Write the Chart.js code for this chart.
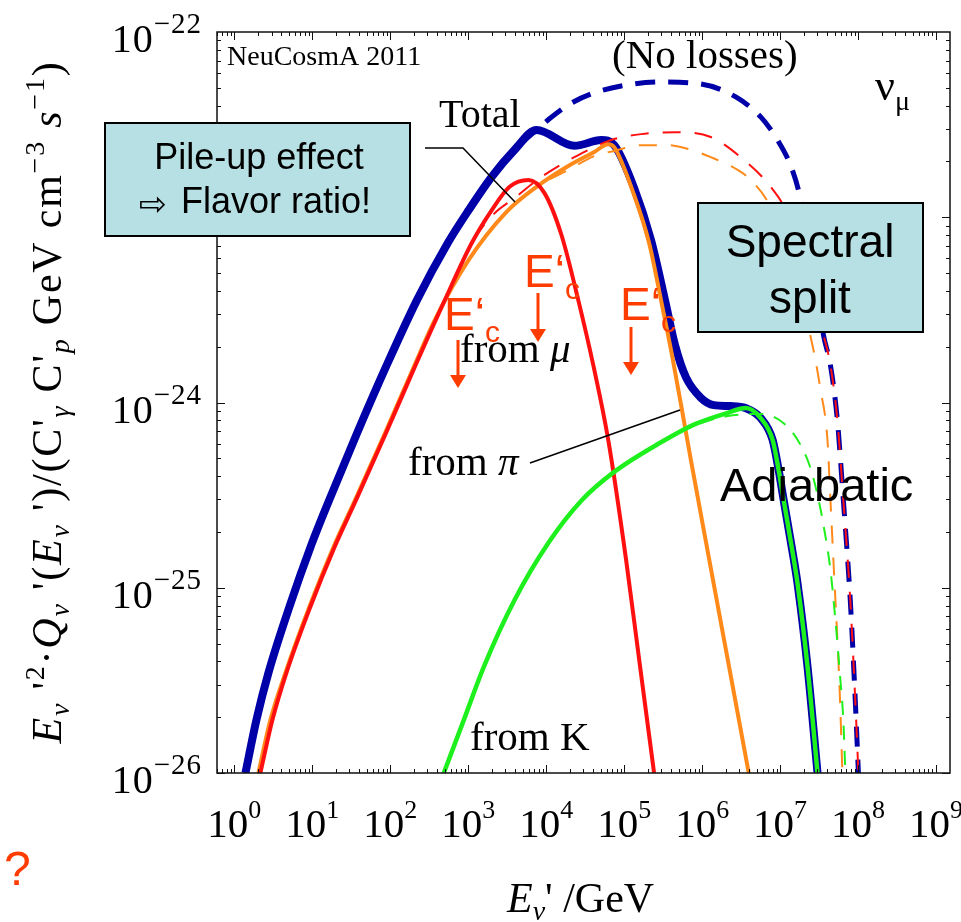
<!DOCTYPE html>
<html>
<head>
<meta charset="utf-8">
<script src="https://cdn.jsdelivr.net/npm/chart.js@4.4.0/dist/chart.umd.min.js"></script>
<style>
  body { margin: 0; background: #fff; }
  canvas { display: block; }
</style>
</head>
<body>
<canvas id="chart" width="961" height="922"></canvas>
<script>
// --- data (E in GeV, E^2 Q in plot units) ---
const totalE = [1.39, 1.92, 2.74, 5.08, 9.70, 16.5, 37.6, 88.3, 220, 547, 1010, 1995, 3930, 7520, 2.30e4, 5.08e4, 7.45e4, 1.34e5, 2.21e5, 3.34e5, 4.49e5, 6.19e5, 9.64e5, 1.41e6, 2.33e6, 3.62e6, 5.64e6, 8.02e6, 9.57e6, 1.11e7, 1.36e7, 1.67e7, 2.25e7, 3.02e7];
const totalQ = [1.0e-26, 1.93e-26, 3.47e-26, 7.87e-26, 1.70e-25, 2.98e-25, 6.84e-25, 1.56e-24, 3.57e-24, 7.26e-24, 1.09e-23, 1.65e-23, 2.31e-23, 2.96e-23, 2.43e-23, 2.61e-23, 2.45e-23, 1.44e-23, 7.53e-24, 3.57e-24, 2.04e-24, 1.37e-24, 1.06e-24, 9.68e-25, 9.57e-25, 9.33e-25, 8.24e-25, 6.28e-25, 4.33e-25, 2.98e-25, 1.81e-25, 1.06e-25, 3.73e-26, 1.0e-26];

const muE = [2.16, 3.08, 4.66, 9.43, 19.1, 36.5, 88.3, 207, 501, 1110, 1995, 3390, 5930, 9510, 1.57e4, 2.58e4, 4.02e4, 6.25e4, 1.06e5, 1.56e5, 2.42e5];
const muQ = [1e-26, 1.93e-26, 3.47e-26, 7.87e-26, 1.64e-25, 2.98e-25, 6.84e-25, 1.56e-24, 3.57e-24, 7.26e-24, 1.09e-23, 1.46e-23, 1.59e-23, 1.35e-23, 8.02e-24, 3.57e-24, 1.59e-24, 6.28e-25, 1.41e-25, 4.07e-26, 1e-26];

const piE = [2.04, 2.90, 4.52, 9.16, 18.5, 35.5, 85.7, 201, 373, 1010, 3100, 7520, 1.92e4, 4.14e4, 6.25e4, 7.45e4, 1.34e5, 2.09e5, 2.97e5, 4.11e5, 5.51e5, 7.18e5, 1.29e6, 2.33e6, 3.96e6];
const piQ = [1e-26, 1.93e-26, 3.47e-26, 7.87e-26, 1.64e-25, 2.98e-25, 6.84e-25, 1.56e-24, 2.79e-24, 5.87e-24, 1.07e-23, 1.46e-23, 1.89e-23, 2.25e-23, 2.48e-23, 2.39e-23, 1.32e-23, 7.26e-24, 3.57e-24, 1.80e-24, 9.12e-25, 4.89e-25, 1.28e-25, 3.34e-26, 1e-26];

const kE = [486, 877, 1580, 3930, 1.07e4, 2.82e4, 7.45e4, 2.97e5, 7.85e5, 2.13e6, 3.62e6, 5.64e6, 8.02e6, 9.57e6, 1.11e7, 1.36e7, 1.67e7, 2.25e7, 3.02e7];
const kQ = [1e-26, 1.93e-26, 3.73e-26, 8.59e-26, 1.75e-25, 2.95e-25, 4.22e-25, 6.10e-25, 7.60e-25, 8.80e-25, 9.33e-25, 8.24e-25, 6.28e-25, 4.33e-25, 2.98e-25, 1.81e-25, 1.06e-25, 3.73e-26, 1e-26];

// no losses (dashed)
const totalNoLossE = [1.39, 1.92, 2.74, 5.08, 9.70, 16.5, 37.6, 88.3, 220, 547, 1010, 1995, 3930, 7520, 1.10e4, 1.92e4, 3.78e4, 9.16e4, 2.97e5, 9.64e5, 2.70e6, 5.64e6, 9.29e6, 1.36e7, 1.72e7, 2.31e7, 2.92e7, 3.60e7, 4.42e7, 5.42e7, 6.47e7, 7.94e7, 9.20e7, 1.01e8];
const totalNoLossQ = [1e-26, 1.93e-26, 3.47e-26, 7.87e-26, 1.70e-25, 2.98e-25, 6.84e-25, 1.56e-24, 3.57e-24, 7.26e-24, 1.09e-23, 1.65e-23, 2.31e-23, 2.96e-23, 3.40e-23, 4.04e-23, 4.63e-23, 5.11e-23, 5.37e-23, 5.24e-23, 4.46e-23, 3.48e-23, 2.61e-23, 1.91e-23, 1.40e-23, 7.53e-24, 4.05e-24, 2.31e-24, 1.59e-24, 8.05e-25, 2.98e-25, 8.59e-26, 2.48e-26, 1e-26];

const muNoLossE = [2.16, 3.08, 4.66, 9.43, 19.1, 36.5, 88.3, 207, 501, 1110, 2120, 3930, 8690, 2.30e4, 6.82e4, 1.65e5, 4.62e5, 1.29e6, 3.42e6, 7.57e6, 1.18e7, 1.67e7, 2.31e7, 2.92e7, 3.60e7, 4.42e7, 5.42e7, 6.47e7, 7.94e7, 9.20e7, 1.01e8];
const muNoLossQ = [1e-26, 1.93e-26, 3.47e-26, 7.87e-26, 1.64e-25, 2.98e-25, 6.84e-25, 1.56e-24, 3.57e-24, 7.26e-24, 1.04e-23, 1.27e-23, 1.65e-23, 2.11e-23, 2.61e-23, 2.81e-23, 2.88e-23, 2.71e-23, 2.04e-23, 1.46e-23, 1.09e-23, 7.08e-24, 4.58e-24, 3.15e-24, 2.31e-24, 1.59e-24, 8.05e-25, 2.98e-25, 8.59e-26, 2.48e-26, 1e-26];

const piNoLossE = [2.04, 2.90, 4.52, 9.16, 18.5, 35.5, 85.7, 201, 373, 1010, 3100, 7520, 1.92e4, 4.14e4, 7.45e4, 1.65e5, 3.66e5, 7.19e5, 1.29e6, 2.86e6, 4.20e6, 7.13e6, 1.11e7, 1.58e7, 2.18e7, 2.68e7, 3.30e7, 4.05e7, 4.42e7, 4.97e7, 5.59e7, 5.93e7, 6.29e7];
const piNoLossQ = [1e-26, 1.93e-26, 3.47e-26, 7.87e-26, 1.64e-25, 2.98e-25, 6.84e-25, 1.56e-24, 2.79e-24, 5.87e-24, 1.07e-23, 1.46e-23, 1.80e-23, 2.14e-23, 2.28e-23, 2.45e-23, 2.45e-23, 2.31e-23, 2.11e-23, 1.80e-23, 1.59e-23, 1.19e-23, 7.53e-24, 4.58e-24, 2.79e-24, 1.92e-24, 1.17e-24, 6.28e-25, 2.98e-25, 1.10e-25, 4.07e-26, 2.19e-26, 1e-26];

const kNoLossE = [486, 877, 1580, 3930, 1.07e4, 2.82e4, 7.45e4, 2.97e5, 7.85e5, 2.13e6, 5.64e6, 1.18e7, 1.83e7, 2.45e7, 3.02e7, 3.60e7, 4.42e7, 5.12e7, 5.93e7, 6.47e7, 6.87e7];
const kNoLossQ = [1e-26, 1.93e-26, 3.73e-26, 8.59e-26, 1.75e-25, 2.95e-25, 4.22e-25, 6.10e-25, 7.50e-25, 8.45e-25, 8.67e-25, 7.57e-25, 5.90e-25, 4.43e-25, 3.17e-25, 2.18e-25, 1.25e-25, 6.70e-26, 3.18e-26, 1.93e-26, 1e-26];

// axis ticks
const xTickValues = [1, 10, 100, 1e3, 1e4, 1e5, 1e6, 1e7, 1e8, 1e9];
const xTickExps = ['0', '1', '2', '3', '4', '5', '6', '7', '8', '9'];
const yTickValues = [1e-22, 1e-23, 1e-24, 1e-25, 1e-26];
const yTickExps = ['\u221222', '\u221223', '\u221224', '\u221225', '\u221226'];

const SERIF = '"Liberation Serif", "DejaVu Serif", serif';
const SANS = '"Liberation Sans", Arial, sans-serif';
const BLUE = '#0000a8', RED = '#ff1010', ORANGE = '#ff8a1a', GREEN = '#1ef01e';
const NOTE = '#ff3c00';

function series(label, xs, ys, color, width, dash, order) {
  return {
    label: label,
    data: xs.map((x, i) => ({ x: x, y: ys[i] })),
    borderColor: color,
    borderWidth: width,
    borderDash: dash,
    borderJoinStyle: 'round',
    pointRadius: 0,
    fill: false,
    cubicInterpolationMode: 'monotone',
    clip: 0,
    order: order
  };
}

// draw a run of text pieces [text, font, dy]; sp = extra space per character
function drawRuns(ctx, parts, x, y, sp) {
  sp = sp || 0;
  parts.forEach(p => {
    ctx.font = p[1];
    for (const ch of p[0]) {
      ctx.fillText(ch, x, y + (p[2] || 0));
      x += ctx.measureText(ch).width + sp;
    }
  });
  return x;
}
function runsWidth(ctx, parts) {
  let w = 0;
  parts.forEach(p => { ctx.font = p[1]; for (const ch of p[0]) w += ctx.measureText(ch).width; });
  return w;
}
function runsChars(parts) {
  return parts.reduce((n, p) => n + [...p[0]].length, 0);
}

const decor = {
  id: 'decor',
  afterDraw(chart) {
    const ctx = chart.ctx;
    const area = chart.chartArea;
    const xs = chart.scales.x, ys = chart.scales.y;
    ctx.save();

    // frame + inside ticks
    ctx.strokeStyle = '#111';
    ctx.lineWidth = 1.5;
    ctx.strokeRect(area.left, area.top, area.right - area.left, area.bottom - area.top);
    ctx.lineWidth = 1;
    ctx.beginPath();
    for (let d = -1; d <= 9; d++) {
      for (let m = 1; m <= 9; m++) {
        const v = m * Math.pow(10, d);
        if (v < xs.min || v > xs.max) continue;
        const px = Math.round(xs.getPixelForValue(v)) + 0.5;
        const len = m === 1 ? 8 : 4;
        ctx.moveTo(px, area.bottom); ctx.lineTo(px, area.bottom - len);
        ctx.moveTo(px, area.top); ctx.lineTo(px, area.top + len);
      }
    }
    for (let d = -26; d <= -23; d++) {
      for (let m = 1; m <= 9; m++) {
        const v = m * Math.pow(10, d);
        if (v < ys.min || v > ys.max) continue;
        const py = Math.round(ys.getPixelForValue(v)) + 0.5;
        const len = m === 1 ? 8 : 4;
        ctx.moveTo(area.left, py); ctx.lineTo(area.left + len, py);
        ctx.moveTo(area.right, py); ctx.lineTo(area.right - len, py);
      }
    }
    ctx.stroke();

    // tick labels
    ctx.fillStyle = '#000';
    ctx.textBaseline = 'alphabetic';
    ctx.textAlign = 'left';
    xTickValues.forEach((v, i) => {
      const px = xs.getPixelForValue(v);
      const parts = [['10', '41px ' + SERIF, 0], [xTickExps[i], '26px ' + SERIF, -19]];
      drawRuns(ctx, parts, px - runsWidth(ctx, parts) / 2, 837);
    });
    yTickValues.forEach((v, i) => {
      const py = ys.getPixelForValue(v);
      const parts = [['10', '40px ' + SERIF, 0], [yTickExps[i], '29px ' + SERIF, -19]];
      drawRuns(ctx, parts, 199 - runsWidth(ctx, parts) - 2, py + 20, 1);
    });

    // axis titles
    const I = 'italic 42px ' + SERIF, R = '42px ' + SERIF, IS = 'italic 28px ' + SERIF, S = '28px ' + SERIF;
    drawRuns(ctx, [['E', I, 0], ['\u03bd', IS, 8], ["' /GeV", R, 0]], 507, 912);
    const yTitle = [['E', I, 0], ['\u03bd', IS, 8], [" '", R, 0], ['2', S, -17], ['\u00b7', R, 0],
      ['Q', I, 0], ['\u03bd', IS, 8], [" '", R, 0], ['(', R, 0], ['E', I, 0], ['\u03bd', IS, 8], [" ')/(C'", R, 0],
      ['\u03b3', IS, 8], [" C'", R, 0], ['p', IS, 8], [' GeV cm', R, 0], ['\u22123', S, -17], [' ', R, 0],
      ['s', I, 0], ['\u22121', S, -17], [')', R, 0]];
    const titleLen = 683;
    const sp = (titleLen - runsWidth(ctx, yTitle)) / runsChars(yTitle);
    ctx.save();
    ctx.translate(61, 402);
    ctx.rotate(-Math.PI / 2);
    drawRuns(ctx, yTitle, -titleLen / 2, 0, sp);
    ctx.restore();

    // plot texts
    ctx.font = '28px ' + SERIF; ctx.fillText('NeuCosmA 2011', 227, 65);
    ctx.font = '41px ' + SERIF; ctx.fillText('(No losses)', 612, 68);
    drawRuns(ctx, [['\u03bd', '44px ' + SERIF, 0], ['\u03bc', '28px ' + SERIF, 10]], 875, 100);
    ctx.font = '40px ' + SERIF; ctx.fillText('Total', 439, 127);
    drawRuns(ctx, [['from ', '41px ' + SERIF, 0], ['\u03bc', 'italic 41px ' + SERIF, 0]], 460, 362);
    drawRuns(ctx, [['from ', '41px ' + SERIF, 0], ['\u03c0', 'italic 41px ' + SERIF, 0]], 408, 475);
    ctx.font = '41px ' + SERIF; ctx.fillText('from K', 470, 750);
    ctx.font = '47px ' + SANS; ctx.fillText('Adiabatic', 720, 501);

    // leader lines
    ctx.strokeStyle = '#000'; ctx.lineWidth = 1.5;
    ctx.beginPath();
    ctx.moveTo(425, 148); ctx.lineTo(463, 148); ctx.lineTo(515, 202);
    ctx.moveTo(530, 463); ctx.lineTo(680, 410);
    ctx.stroke();

    // boxes
    function box(x, y, w, h) {
      ctx.fillStyle = '#b7e0e4';
      ctx.fillRect(x, y, w, h);
      ctx.strokeStyle = '#000'; ctx.lineWidth = 2;
      ctx.strokeRect(x, y, w, h);
      ctx.fillStyle = '#000';
    }
    box(105, 123, 305, 113);
    ctx.textAlign = 'center';
    ctx.font = '36px ' + SANS; ctx.fillText('Pile-up effect', 259, 169);
    ctx.textAlign = 'left';
    ctx.font = '33px "DejaVu Sans", sans-serif'; ctx.fillText('\u21e8', 139, 215);
    ctx.font = '36px ' + SANS; ctx.fillText('Flavor ratio!', 181, 213);
    box(698, 203, 225, 129);
    ctx.textAlign = 'center';
    ctx.font = '46px ' + SANS;
    ctx.fillText('Spectral', 810, 257);
    ctx.fillText('split', 810, 313);
    ctx.textAlign = 'left';

    // E'c markers
    function ec(x, y) {
      ctx.fillStyle = NOTE;
      const end = drawRuns(ctx, [['E\u2018', '46px ' + SANS, 0]], x, y);
      ctx.font = '30px ' + SANS; ctx.fillText('c', end, y + 12);
    }
    function arrow(x, y0, y1) {
      ctx.strokeStyle = NOTE; ctx.fillStyle = NOTE; ctx.lineWidth = 3;
      ctx.beginPath(); ctx.moveTo(x, y0); ctx.lineTo(x, y1 - 12); ctx.stroke();
      ctx.beginPath(); ctx.moveTo(x - 8, y1 - 13); ctx.lineTo(x + 8, y1 - 13); ctx.lineTo(x, y1); ctx.closePath(); ctx.fill();
    }
    ec(444, 330); arrow(458, 340, 388);
    ec(524, 287); arrow(538, 293, 342);
    ec(620, 320); arrow(631, 327, 375);

    ctx.fillStyle = NOTE;
    ctx.font = '48px ' + SANS; ctx.fillText('?', 4, 885);
    ctx.restore();
  }
};

new Chart(document.getElementById('chart').getContext('2d'), {
  type: 'line',
  data: {
    datasets: [
      series('K', kE, kQ, GREEN, 4.5, [], 1),
      series('mu', muE, muQ, RED, 4, [], 2),
      series('pi', piE, piQ, ORANGE, 4, [], 3),
      series('K no losses', kNoLossE, kNoLossQ, GREEN, 2, [14, 11], 4),
      series('mu no losses', muNoLossE, muNoLossQ, RED, 2, [18, 14], 5),
      series('pi no losses', piNoLossE, piNoLossQ, ORANGE, 2, [18, 14], 6),
      series('Total', totalE, totalQ, BLUE, 8, [], 7),
      series('Total no losses', totalNoLossE, totalNoLossQ, BLUE, 5, [20, 13], 8)
    ]
  },
  options: {
    responsive: false,
    animation: false,
    layout: { padding: { left: 217, right: 11, top: 32, bottom: 149 } },
    plugins: { legend: { display: false }, tooltip: { enabled: false } },
    scales: {
      x: { type: 'logarithmic', display: false, min: 0.642, max: 1.51e9 },
      y: { type: 'logarithmic', display: false, min: 1e-26, max: 1e-22 }
    }
  },
  plugins: [decor]
});
</script>
</body>
</html>
